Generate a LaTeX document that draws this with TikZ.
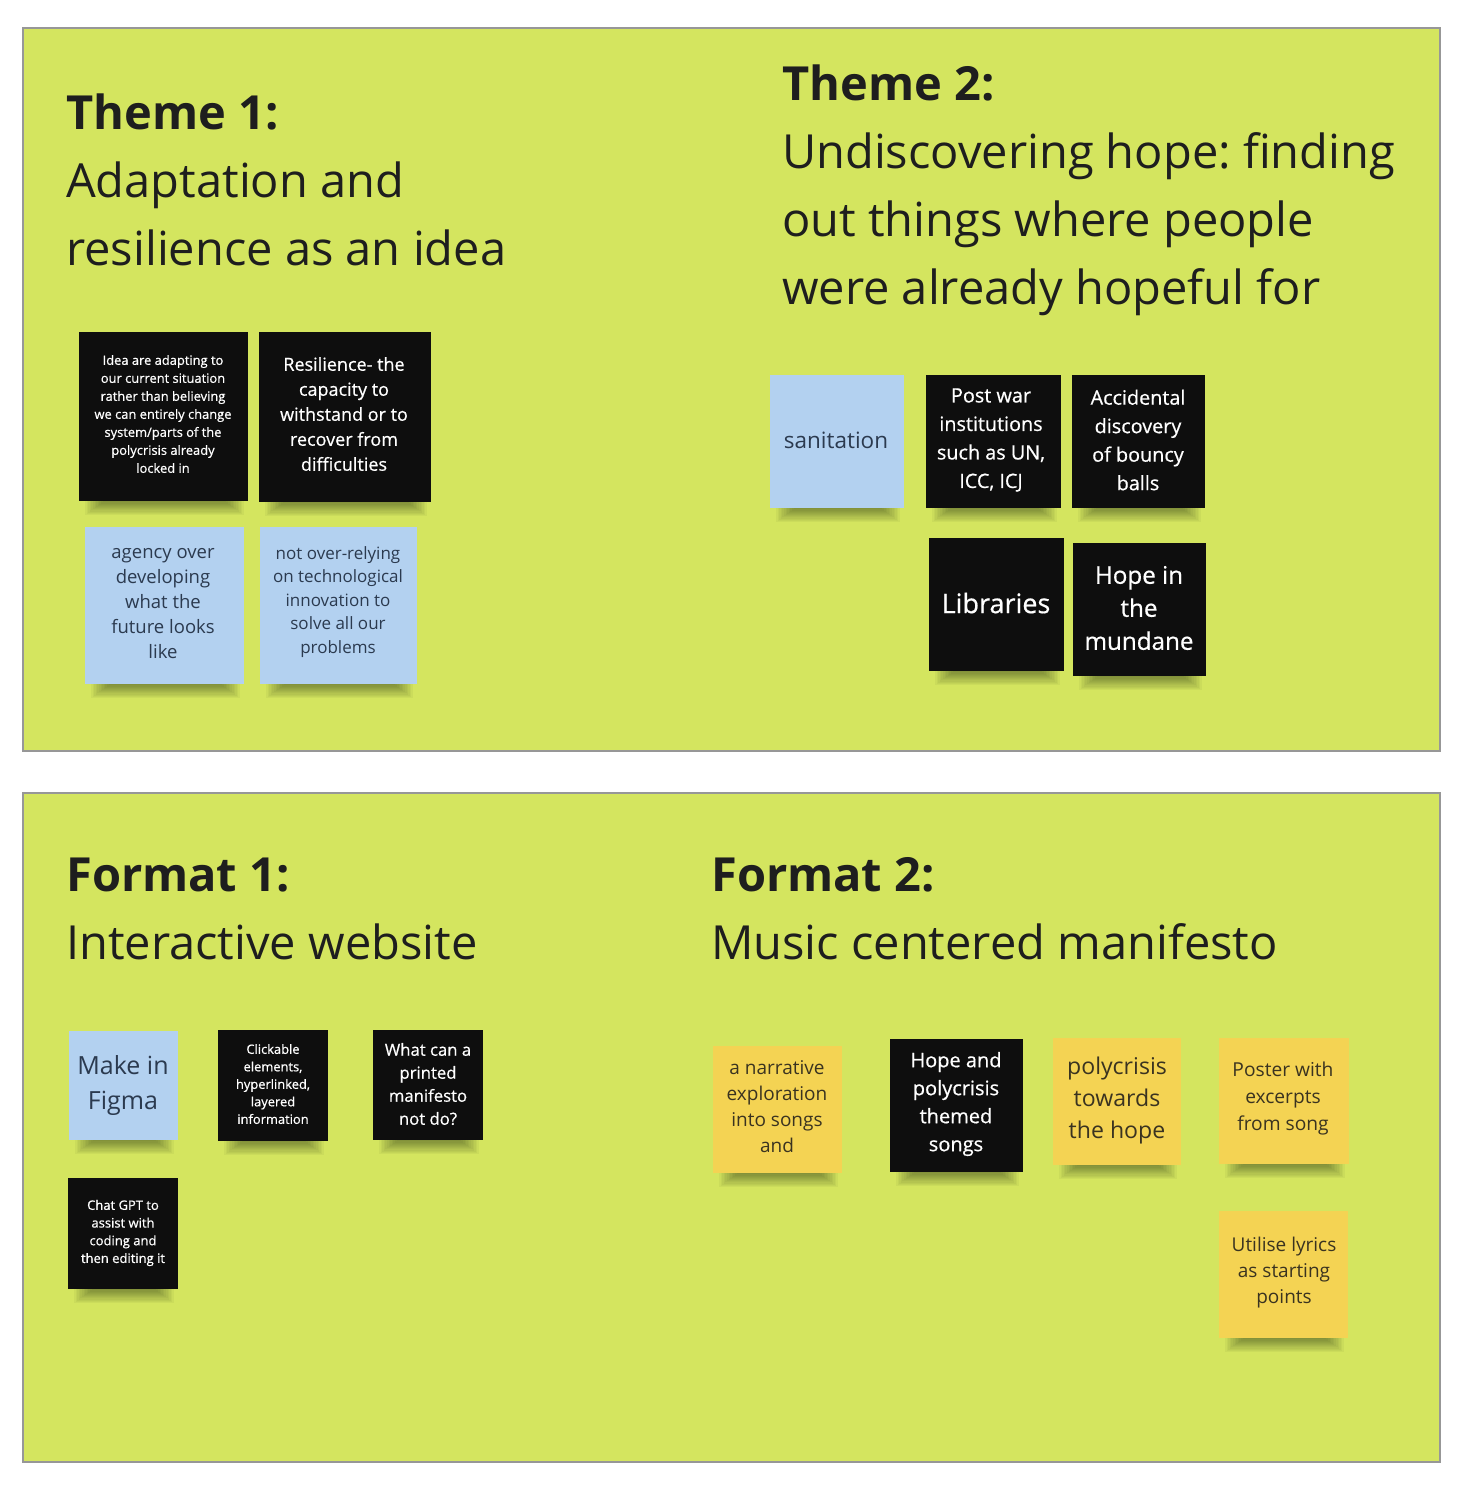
\documentclass[tikz,border=0pt]{standalone}
\usepackage{fontspec}
\setmainfont{Open Sans}
\newfontfamily\whitefont{Open Sans}[FakeBold=0.6]
\frenchspacing
\definecolor{lime}{HTML}{D4E55F}
\definecolor{panelborder}{HTML}{979797}
\definecolor{stickyblue}{HTML}{B3D1F0}
\definecolor{stickyyellow}{HTML}{F4D353}
\definecolor{stickyblack}{HTML}{0E0E0E}
\definecolor{bluetext}{HTML}{2B3A4F}
\definecolor{yellowtext}{HTML}{3A3320}
\definecolor{headtext}{HTML}{1E1E1E}
\definecolor{shadowcol}{HTML}{1A2410}
\newcommand\stickynote[6]{%
  \foreach \k in {0,...,11}{\fill[shadowcol, opacity=0.045] ({#3+6+\k*1.6},{#6-3}) rectangle ({#5-4-\k*1.6},{#6+14-\k*1.15});}
  \node[#1, minimum width={(#5-#3)*1pt}, minimum height={(#6-#4)*1pt}] (#2) at ({(#3+#5)/2},{(#4+#6)/2}) {};}
\newcommand\stickytext[6]{%
  \node[#4, font=#5] (#1) at (#2,#3) {#6};}
\begin{document}
\begin{tikzpicture}[x=1pt,y=-1pt,
  notebase/.style={draw=none, inner sep=0pt},
  blacknote/.style={notebase, fill=stickyblack},
  bluenote/.style={notebase, fill=stickyblue},
  yellownote/.style={notebase, fill=stickyyellow},
  wtext/.style={text=white, align=center, inner sep=0pt},
  btext/.style={text=bluetext, align=center, inner sep=0pt},
  ytext/.style={text=yellowtext, align=center, inner sep=0pt},
  panel/.style={fill=lime, draw=panelborder, line width=1.2pt},
  headbold/.style={anchor=base west, inner sep=0pt, text=headtext, font=\fontsize{47}{56}\selectfont\bfseries},
  headsub/.style={anchor=base west, inner sep=0pt, text=headtext, font=\fontsize{47}{56}\selectfont},
]
\fill[white] (0,0) rectangle (1466,1496);
\useasboundingbox (0,0) rectangle (1466,1496);

% panels
\node[panel, minimum width=1417pt, minimum height=723pt, inner sep=0pt] (p1) at (731.5,389.5) {};
\node[panel, minimum width=1417pt, minimum height=669pt, inner sep=0pt] (p2) at (731.5,1127.5) {};

% headings
\node[headbold] (t1) at (66,129) {Theme 1:};
\node[headsub] (t1a) at (66,197) {Adaptation and};
\node[headsub] (t1b) at (66,265) {resilience as an idea};

\node[headbold] (t2) at (782,100) {Theme 2:};
\node[headsub] (t2a) at (782,168) {Undiscovering hope: finding};
\node[headsub] (t2b) at (782,236) {out things where people};
\node[headsub] (t2c) at (782,304) {were already hopeful for};

\node[headbold] (f1) at (66,891) {Format 1:};
\node[headsub] (f1a) at (66,959) {Interactive website};

\node[headbold] (f2) at (711,891) {Format 2:};
\node[headsub] (f2a) at (711,959) {Music centered manifesto};

% Theme 1 notes
\stickynote{blacknote}{n1}{79}{332}{248}{501}
\stickytext{n1t}{163}{414}{wtext}{\whitefont\fontsize{12.9}{18}\selectfont}{Idea are adapting to\\our current situation\\rather than believing\\we can entirely change\\system/parts of the\\polycrisis already\\locked in}
\stickynote{blacknote}{n2}{259}{332}{431}{502}
\stickytext{n2t}{344}{414}{wtext}{\whitefont\fontsize{18}{25}\selectfont}{Resilience- the\\capacity to\\withstand or to\\recover from\\difficulties}
\stickynote{bluenote}{n3}{85}{527}{244}{684}
\stickytext{n3t}{163}{604}{btext}{\fontsize{18.5}{25}\selectfont}{agency over\\developing\\what the\\future looks\\like}
\stickynote{bluenote}{n4}{260}{527}{417}{684}
\stickytext{n4t}{338}{602}{btext}{\fontsize{17}{23.5}\selectfont}{not over-relying\\on technological\\innovation to\\solve all our\\problems}

% Theme 2 notes
\stickynote{bluenote}{n5}{770}{375}{904}{508}
\stickytext{n5t}{836}{440}{btext}{\fontsize{22.5}{26}\selectfont}{sanitation}
\stickynote{blacknote}{n6}{926}{375}{1061}{508}
\stickytext{n6t}{991}{440}{wtext}{\whitefont\fontsize{19.8}{28.5}\selectfont}{Post war\\institutions\\such as UN,\\ICC, ICJ}
\stickynote{blacknote}{n7}{1072}{375}{1205}{508}
\stickytext{n7t}{1138}{440}{wtext}{\whitefont\fontsize{19.8}{28.5}\selectfont}{Accidental\\discovery\\of bouncy\\balls}
\stickynote{blacknote}{n8}{929}{538}{1064}{671}
\stickytext{n8t}{996}{603}{wtext}{\whitefont\fontsize{27}{32}\selectfont}{Libraries}
\stickynote{blacknote}{n9}{1073}{543}{1206}{676}
\stickytext{n9t}{1139}{608}{wtext}{\whitefont\fontsize{24.2}{33}\selectfont}{Hope in\\the\\mundane}

% Format 1 notes
\stickynote{bluenote}{n10}{69}{1031}{178}{1140}
\stickytext{n10t}{123}{1085}{btext}{\fontsize{25}{35}\selectfont}{Make in\\Figma}
\stickynote{blacknote}{n11}{218}{1030}{328}{1141}
\stickytext{n11t}{273}{1084}{wtext}{\whitefont\fontsize{12.9}{17.5}\selectfont}{Clickable\\elements,\\hyperlinked,\\layered\\information}
\stickynote{blacknote}{n12}{373}{1030}{483}{1140}
\stickytext{n12t}{428}{1084}{wtext}{\whitefont\fontsize{16.7}{23}\selectfont}{What can a\\printed\\manifesto\\not do?}
\stickynote{blacknote}{n13}{68}{1178}{178}{1289}
\stickytext{n13t}{123}{1233}{wtext}{\whitefont\fontsize{13}{17.7}\selectfont}{Chat GPT to\\assist with\\coding and\\then editing it}

% Format 2 notes
\stickynote{yellownote}{n14}{713}{1046}{842}{1173}
\stickytext{n14t}{777}{1107}{ytext}{\fontsize{19}{26}\selectfont}{a narrative\\exploration\\into songs\\and}
\stickynote{blacknote}{n15}{890}{1039}{1023}{1172}
\stickytext{n15t}{956}{1104}{wtext}{\whitefont\fontsize{20}{28}\selectfont}{Hope and\\polycrisis\\themed\\songs}
\stickynote{yellownote}{n16}{1053}{1038}{1181}{1165}
\stickytext{n16t}{1117}{1100}{ytext}{\fontsize{23.1}{32}\selectfont}{polycrisis\\towards\\the hope}
\stickynote{yellownote}{n17}{1219}{1038}{1349}{1164}
\stickytext{n17t}{1283}{1098}{ytext}{\fontsize{19.2}{27}\selectfont}{Poster with\\excerpts\\from song}
\stickynote{yellownote}{n18}{1219}{1211}{1348}{1338}
\stickytext{n18t}{1284}{1273}{ytext}{\fontsize{19}{26}\selectfont}{Utilise lyrics\\as starting\\points}
\end{tikzpicture}
\end{document}
